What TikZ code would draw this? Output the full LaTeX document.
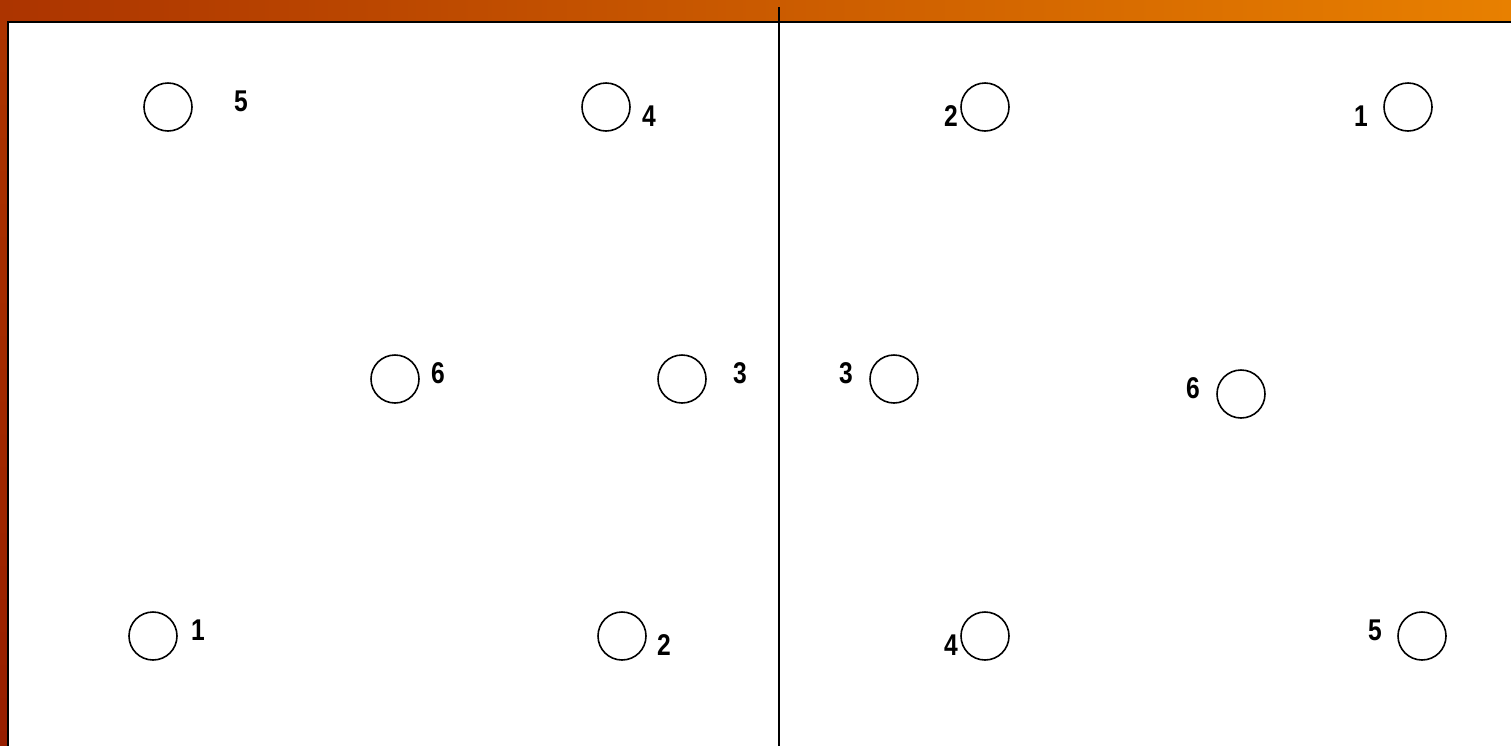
\documentclass[tikz,border=0pt]{standalone}
\usepackage{fontspec}
\setmainfont{Liberation Sans}
\newfontfamily\digitfont[FakeStretch=0.82]{Liberation Sans}
\usetikzlibrary{positioning}

\definecolor{bgleft}{RGB}{172,52,0}
\definecolor{bgright}{RGB}{232,128,0}
\definecolor{bgedge}{RGB}{150,30,0}

\begin{document}
\begin{tikzpicture}[
  x=1pt, y=-1pt,
  spot/.style={draw, circle, line width=1.6pt, minimum size=48pt, inner sep=0pt},
  num/.style={font=\digitfont\fontsize{30}{32}\selectfont\bfseries, inner sep=0pt}
]
\useasboundingbox (0,0) rectangle (1511,745);
% background and panel
\shade[left color=bgleft, right color=bgright] (0,0) rectangle (1511,745);
\shade[top color=bgleft, bottom color=bgedge] (0,22) rectangle (8,747);
\fill[white] (8,22) rectangle (1513,747);
\draw[line width=1.8pt] (8,747) -- (8,22) -- (1513,22);
\draw[line width=1.8pt] (779,7) -- (779,747);

% left half
\node[spot] (l5) at (168,107) {};
\node[num] (l5t) at (241,101) {5};
\node[spot] (l4) at (606,107) {};
\node[num] (l4t) at (649,116) {4};
\node[spot] (l6) at (395,379) {};
\node[num] (l6t) at (438,373) {6};
\node[spot] (l3) at (682,379) {};
\node[num] (l3t) at (740,373) {3};
\node[spot] (l1) at (153,636) {};
\node[num] (l1t) at (198,630) {1};
\node[spot] (l2) at (622,636) {};
\node[num] (l2t) at (664,645) {2};

% right half
\node[spot] (r2) at (985,107) {};
\node[num] (r2t) at (951,116) {2};
\node[spot] (r1) at (1408,107) {};
\node[num] (r1t) at (1361,116) {1};
\node[spot] (r3) at (894,379) {};
\node[num] (r3t) at (846,373) {3};
\node[spot] (r6) at (1241,394) {};
\node[num] (r6t) at (1193,388) {6};
\node[spot] (r4) at (985,636) {};
\node[num] (r4t) at (951,645) {4};
\node[spot] (r5) at (1422,636) {};
\node[num] (r5t) at (1375,630) {5};
\end{tikzpicture}
\end{document}
